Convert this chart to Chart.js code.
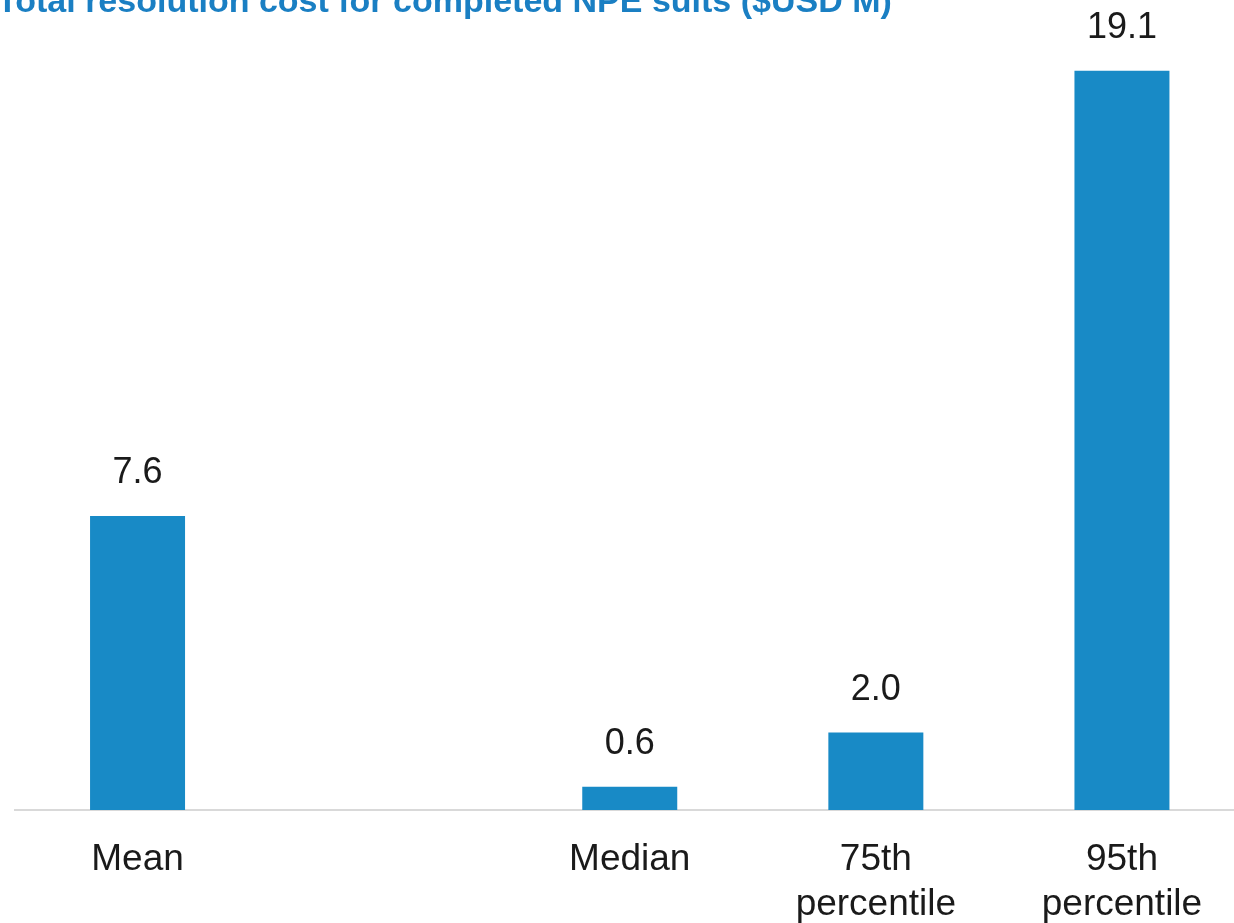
<!DOCTYPE html>
<html>
<head>
<meta charset="utf-8">
<script src="https://cdn.jsdelivr.net/npm/chart.js@4"></script>
<style>
html,body{margin:0;padding:0;overflow:hidden;background:#fff;}
#wrap{position:relative;width:1260px;height:923px;}
</style>
</head>
<body>
<div id="wrap"><canvas id="c"></canvas></div>
<script>
const titleText = 'Total resolution cost for completed NPE suits ($USD M)';
const categories = ['Mean', '', 'Median', ['75th', 'percentile'], ['95th', 'percentile']];
const costValues = [7.6, null, 0.6, 2.0, 19.1];
const yTicks = [0, 20];

const BAR_COLOR = '#188ac6';
const TEXT_COLOR = '#1a1a1a';
const FONT = '"Liberation Sans", Arial, Helvetica, sans-serif';

const titlePlugin = {
  id: 'topTitle',
  afterDraw(chart) {
    const ctx = chart.ctx;
    ctx.save();
    ctx.font = 'bold 34px ' + FONT;
    ctx.fillStyle = '#1a7fc3';
    ctx.textAlign = 'left';
    ctx.textBaseline = 'alphabetic';
    ctx.fillText(titleText, -3, 12);
    ctx.restore();
  }
};

const valueLabels = {
  id: 'valueLabels',
  afterDatasetsDraw(chart) {
    const ctx = chart.ctx;
    const meta = chart.getDatasetMeta(0);
    ctx.save();
    ctx.font = '36px ' + FONT;
    ctx.fillStyle = TEXT_COLOR;
    ctx.textAlign = 'center';
    ctx.textBaseline = 'middle';
    meta.data.forEach((bar, i) => {
      const v = chart.data.datasets[0].data[i];
      if (v === null || v === undefined) return;
      ctx.fillText(v.toFixed(1), bar.x, bar.y - 43);
    });
    ctx.restore();
  }
};

new Chart(document.getElementById('c'), {
  type: 'bar',
  data: {
    labels: categories,
    datasets: [{
      data: costValues,
      backgroundColor: BAR_COLOR,
      borderWidth: 0,
      categoryPercentage: 1.0,
      barPercentage: 0.386
    }]
  },
  options: {
    responsive: true,
    maintainAspectRatio: false,
    animation: false,
    layout: { padding: { top: 36, left: 14.5, right: 15, bottom: 0 } },
    plugins: {
      legend: { display: false },
      tooltip: { enabled: false },
      title: { display: false }
    },
    scales: {
      x: {
        offset: true,
        grid: { display: true, drawOnChartArea: false, drawTicks: false, color: 'rgba(0,0,0,0)' },
        border: { display: true, color: '#d9d9d9', width: 2 },
        ticks: {
          color: TEXT_COLOR,
          font: { family: FONT, size: 37, lineHeight: 1.2 },
          padding: 28,
          maxRotation: 0,
          autoSkip: false
        },
        afterFit(scale) { scale.height = 113; }
      },
      y: {
        display: false,
        min: yTicks[0],
        max: yTicks[1]
      }
    }
  },
  plugins: [titlePlugin, valueLabels]
});
</script>
</body>
</html>
